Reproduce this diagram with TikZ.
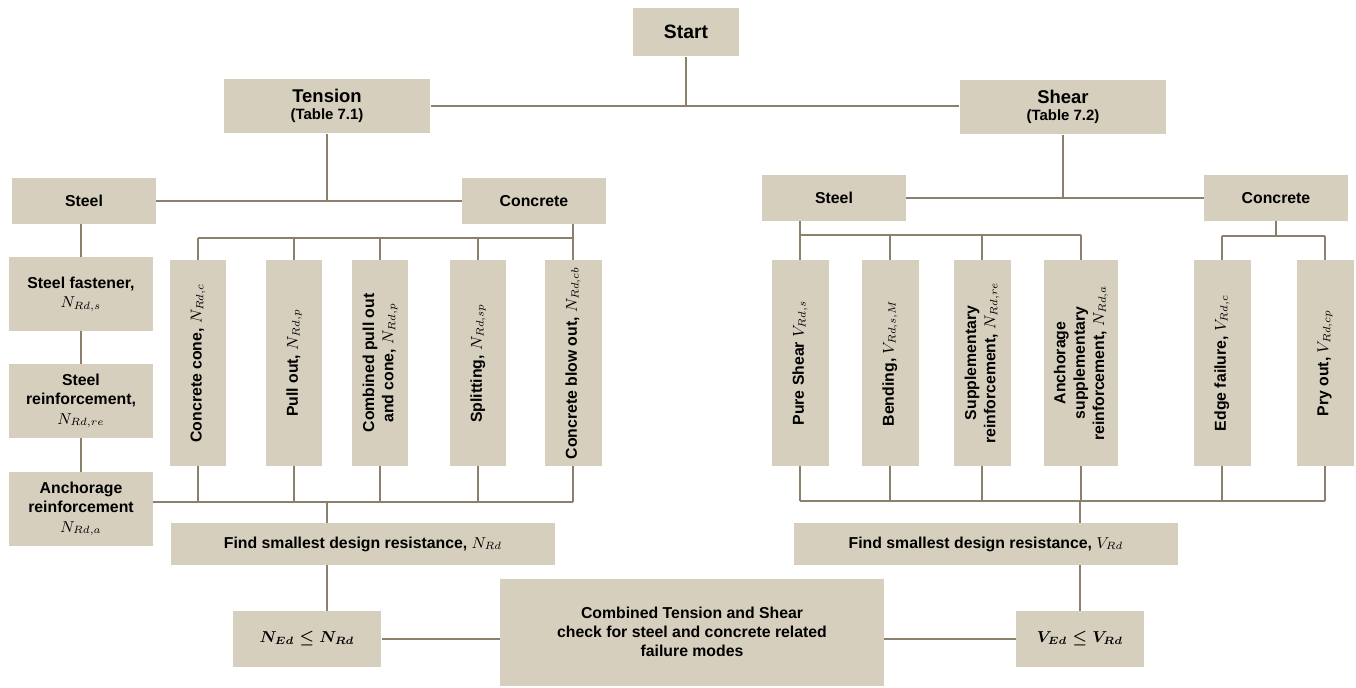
\documentclass[tikz,border=0pt]{standalone}
\usepackage{amsmath}
\usepackage{fontspec}
\setmainfont{Liberation Sans}
\usetikzlibrary{positioning, calc}
\definecolor{boxtan}{RGB}{214, 207, 189}
\definecolor{linebrown}{RGB}{139, 128, 108}

\begin{document}
\begin{tikzpicture}[
        x=0.02cm, y=-0.02cm,
        block/.style={rectangle, fill=boxtan, align=center, inner sep=2pt, font=\bfseries\fontsize{9}{11}\selectfont},
        head/.style={block, minimum width=4.14cm, minimum height=1.1cm, font=\bfseries\fontsize{10.5}{11}\selectfont},
        material/.style={block, minimum width=2.88cm, minimum height=0.92cm},
        chain/.style={block, minimum width=2.88cm, minimum height=1.48cm},
        mode/.style={block, rotate=90, minimum width=4.12cm, minimum height=1.14cm},
        result/.style={block, minimum width=7.68cm, minimum height=0.84cm},
        checkbox/.style={block, minimum height=1.12cm},
        link/.style={draw=linebrown, line width=1.2pt}
    ]
        \useasboundingbox (0,0) rectangle (1356,687);

        % Nodes
        \node[block, minimum width=2.12cm, minimum height=0.98cm, font=\bfseries\fontsize{11}{12}\selectfont] (start) at (686,32) {Start};
        \node[head] (tension) at (327,106) {Tension\\[-1pt]{\fontsize{8.5}{9}\selectfont (Table 7.1)}};
        \node[head] (shear) at (1063,107) {Shear\\[-1pt]{\fontsize{8.5}{9}\selectfont (Table 7.2)}};

        \node[material] (tsteel) at (84,201) {Steel};
        \node[material] (tconc) at (534,201) {Concrete};
        \node[material] (rsteel) at (834,198) {Steel};
        \node[material] (rconc) at (1276,198) {Concrete};

        \node[chain] (tfasten) at (81,294) {Steel fastener,\\$N_{Rd,s}$};
        \node[chain] (treinf) at (81,401) {Steel\\reinforcement,\\$N_{Rd,re}$};
        \node[chain] (tanchor) at (81,509) {Anchorage\\reinforcement\\$N_{Rd,a}$};

        \node[mode] (ccone) at (198,363) {Concrete cone, $N_{Rd,c}$};
        \node[mode] (pullout) at (294,363) {Pull out, $N_{Rd,p}$};
        \node[mode] (pullcone) at (380,363) {Combined pull out\\and cone, $N_{Rd,p}$};
        \node[mode] (split) at (478,363) {Splitting, $N_{Rd,sp}$};
        \node[mode] (blowout) at (573,363) {Concrete blow out, $N_{Rd,cb}$};

        \node[mode] (pshear) at (800,363) {Pure Shear $V_{Rd,s}$};
        \node[mode] (bend) at (890,363) {Bending, $V_{Rd,s,M}$};
        \node[mode] (supp) at (982,363) {Supplementary\\reinforcement, $N_{Rd,re}$};
        \node[mode, minimum height=1.48cm] (ansupp) at (1081,363) {Anchorage\\supplementary\\reinforcement, $N_{Rd,a}$};
        \node[mode] (edgefail) at (1222,363) {Edge failure, $V_{Rd,c}$};
        \node[mode] (pry) at (1325,363) {Pry out, $V_{Rd,cp}$};

        \node[result] (findN) at (363,544) {Find smallest design resistance, $N_{Rd}$};
        \node[result] (findV) at (986,544) {Find smallest design resistance, $V_{Rd}$};

        \node[checkbox, minimum width=2.98cm] (ned) at (307,639) {$\boldsymbol{N_{Ed}\leq N_{Rd}}$};
        \node[checkbox, minimum width=2.56cm] (ved) at (1080,639) {$\boldsymbol{V_{Ed}\leq V_{Rd}}$};
        \node[block, minimum width=7.68cm, minimum height=2.14cm] (comb) at (692,632) {Combined Tension and Shear\\check for steel and concrete related\\failure modes};

        % Edges
        \draw[link] (start) -- (start |- tension);
        \draw[link] (tension) -- (tension -| shear.west);

        % tension side
        \draw[link] (tension) -- (tension |- tsteel);
        \draw[link] (tsteel) -- (tconc);
        \draw[link] (tfasten.north) -- (tfasten.north |- tsteel.south);
        \draw[link] (tfasten) -- (treinf);
        \draw[link] (treinf) -- (tanchor);

        \coordinate (tfan) at ($(blowout.east)+(0,-22)$);
        \draw[link] (tconc.south -| tfan) -- (tfan) -- (tfan -| ccone.east);
        \coordinate (tjoin) at ($(blowout.west)+(0,36)$);
        \draw[link] (tanchor.east |- tjoin) -- (tjoin);
        \foreach \m in {ccone, pullout, pullcone, split, blowout} {
            \draw[link] (\m.east) -- (\m.east |- tfan);
            \draw[link] (\m.west) -- (\m.west |- tjoin);
        }
        \draw[link] (tension |- tjoin) -- (tension |- findN.north);
        \draw[link] (tension |- findN.south) -- (tension |- ned.north);

        % shear side
        \draw[link] (shear) -- (shear |- rsteel);
        \draw[link] (rsteel) -- (rconc);

        \coordinate (sfan) at ($(pshear.east)+(0,-25)$);
        \draw[link] (rsteel.south -| pshear.east) -- (pshear.east |- sfan) -- (ansupp.east |- sfan);
        \foreach \m in {pshear, bend, supp, ansupp}
            \draw[link] (\m.east) -- (\m.east |- sfan);

        \coordinate (cfan) at ($(edgefail.east)+(0,-24)$);
        \draw[link] (rconc) -- (rconc |- cfan);
        \draw[link] (edgefail.east |- cfan) -- (pry.east |- cfan);
        \foreach \m in {edgefail, pry}
            \draw[link] (\m.east) -- (\m.east |- cfan);

        \coordinate (sjoin) at ($(pshear.west)+(0,35)$);
        \draw[link] (pshear.west |- sjoin) -- (pry.west |- sjoin);
        \foreach \m in {pshear, bend, supp, ansupp, edgefail, pry}
            \draw[link] (\m.west) -- (\m.west |- sjoin);
        \draw[link] (ved |- sjoin) -- (ved |- findV.north);
        \draw[link] (ved |- findV.south) -- (ved.north);

        % combined check
        \draw[link] (ned.east) -- (ned.east -| comb.west);
        \draw[link] (ved.west) -- (ved.west -| comb.east);

\end{tikzpicture}
\end{document}
